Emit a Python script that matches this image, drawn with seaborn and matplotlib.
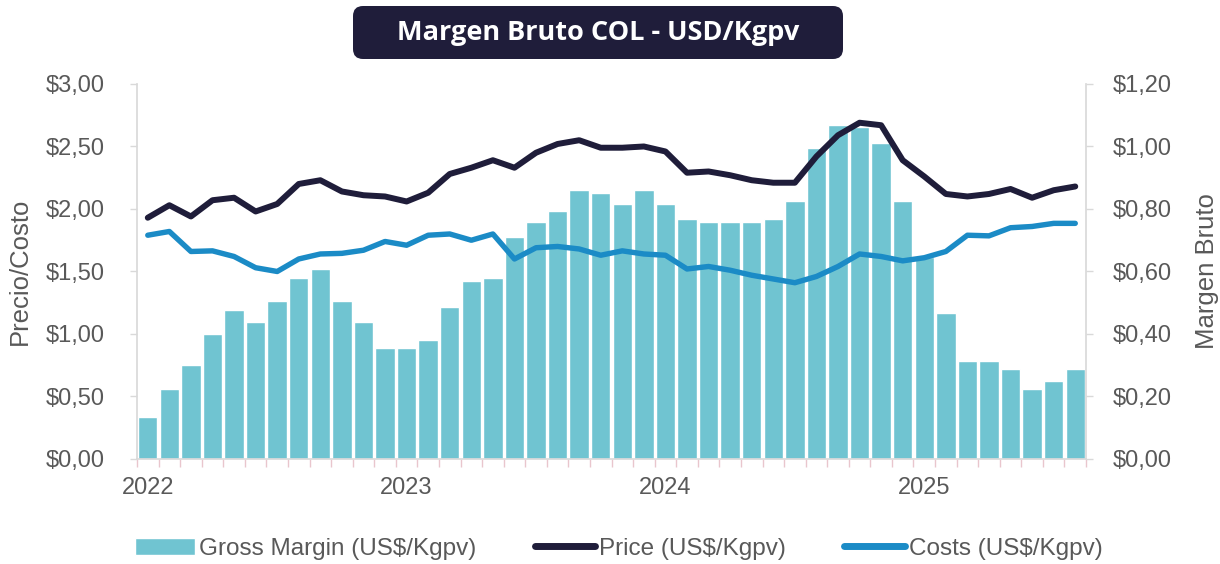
import numpy as np
import pandas as pd
import seaborn as sns
import matplotlib.pyplot as plt
from matplotlib.patches import FancyBboxPatch
from matplotlib.ticker import FuncFormatter

# monthly data, Jan 2022 - Aug 2025
months = pd.date_range('2022-01-01', periods=44, freq='MS')

margin = [0.135, 0.223, 0.300, 0.400, 0.477, 0.438, 0.505, 0.578, 0.608, 0.505,
          0.438, 0.354, 0.354, 0.381, 0.485, 0.571, 0.578, 0.711, 0.758, 0.795,
          0.861, 0.852, 0.815, 0.861, 0.815, 0.767, 0.758, 0.758, 0.758, 0.767,
          0.824, 0.994, 1.068, 1.063, 1.012, 0.824, 0.647, 0.466, 0.315, 0.315,
          0.287, 0.223, 0.251, 0.287]

price = [1.93, 2.03, 1.94, 2.07, 2.09, 1.98, 2.04, 2.20, 2.23, 2.14,
         2.11, 2.10, 2.06, 2.13, 2.28, 2.33, 2.39, 2.33, 2.45, 2.52,
         2.55, 2.49, 2.49, 2.50, 2.46, 2.29, 2.30, 2.27, 2.23, 2.21,
         2.21, 2.42, 2.59, 2.69, 2.67, 2.39, 2.26, 2.12, 2.10, 2.12,
         2.16, 2.09, 2.15, 2.18]

costs = [1.79, 1.82, 1.66, 1.665, 1.62, 1.53, 1.50, 1.60, 1.64, 1.645,
         1.67, 1.74, 1.71, 1.79, 1.80, 1.75, 1.80, 1.60, 1.69, 1.70,
         1.68, 1.63, 1.665, 1.64, 1.63, 1.52, 1.54, 1.51, 1.47, 1.44,
         1.41, 1.46, 1.54, 1.64, 1.62, 1.585, 1.61, 1.66, 1.79, 1.785,
         1.85, 1.86, 1.885, 1.885]

year_labels = ['2022', '2023', '2024', '2025']
left_ticks = [0.0, 0.5, 1.0, 1.5, 2.0, 2.5, 3.0]
right_ticks = [0.0, 0.2, 0.4, 0.6, 0.8, 1.0, 1.2]

bar_color = '#70c4d1'
price_color = '#1f1d3a'
cost_color = '#1b8bc6'
grey_txt = '#595959'
spine_c = '#d9d9d9'

df = pd.DataFrame({'pos': np.arange(len(months)), 'margin': margin,
                   'price': price, 'costs': costs})

sns.set_theme(style='white')
plt.rcParams['font.family'] = ['Liberation Sans', 'DejaVu Sans']

fig = plt.figure(figsize=(12.2, 5.64), dpi=100)
ax = fig.add_axes([0.1123, 0.1862, 0.7779, 0.6649])

# bars on the secondary (right) scale, drawn underneath
sns.barplot(data=df, x='pos', y='margin', color=bar_color, width=0.9,
            saturation=1, ax=ax, label='Gross Margin (US$/Kgpv)')

ax2 = ax.twinx()
sns.lineplot(data=df, x='pos', y='price', ax=ax2, color=price_color, lw=4.3,
             label='Price (US$/Kgpv)', solid_capstyle='round', solid_joinstyle='round')
sns.lineplot(data=df, x='pos', y='costs', ax=ax2, color=cost_color, lw=3.9,
             label='Costs (US$/Kgpv)', solid_capstyle='round', solid_joinstyle='round')

ax.set_xlim(-0.5, len(months) - 0.5)
ax.set_ylim(0, 1.2)
ax2.set_ylim(0, 3.0)

# swap sides: bars axis on the right, lines axis on the left
ax.yaxis.tick_right()
ax.yaxis.set_label_position('right')
ax2.yaxis.tick_left()
ax2.yaxis.set_label_position('left')

money = FuncFormatter(lambda v, p: '${:.2f}'.format(v).replace('.', ','))
ax.set_yticks(right_ticks)
ax2.set_yticks(left_ticks)
ax.yaxis.set_major_formatter(money)
ax2.yaxis.set_major_formatter(money)

ax.set_xticks([12 * i for i in range(len(year_labels))], labels=year_labels)
ax.set_xticks(np.arange(-0.5, len(months), 1), minor=True)

ax.tick_params(axis='x', which='major', length=0, pad=13, labelsize=17, labelcolor=grey_txt)
ax.tick_params(axis='x', which='minor', bottom=True, length=6, width=1, color='#e9c6cd')
ax.tick_params(axis='y', right=True, left=False, length=5, width=1, color=spine_c,
               pad=14, labelsize=17, labelcolor=grey_txt)
ax2.tick_params(axis='y', left=True, right=False, length=5, width=1, color=spine_c,
                pad=18, labelsize=17, labelcolor=grey_txt)

for a in (ax, ax2):
    for s in a.spines.values():
        s.set_visible(False)
ax.spines['bottom'].set_visible(True)
ax.spines['bottom'].set_color(spine_c)
ax.spines['right'].set_visible(True)
ax.spines['right'].set_color(spine_c)
ax2.spines['left'].set_visible(True)
ax2.spines['left'].set_color(spine_c)

ax.set_xlabel('')
ax.set_ylabel('Margen Bruto', fontsize=18.5, color=grey_txt)
ax2.set_ylabel('Precio/Costo', fontsize=18.5, color=grey_txt)
ax.yaxis.set_label_coords(1.115, 0.5)
ax2.yaxis.set_label_coords(-0.111, 0.5)

# legend at the bottom
h1, l1 = ax.get_legend_handles_labels()
h2, l2 = ax2.get_legend_handles_labels()
for a in (ax, ax2):
    if a.get_legend() is not None:
        a.get_legend().remove()
leg = fig.legend(h1 + h2, l1 + l2, loc='center', bbox_to_anchor=(0.507, 0.027),
                 ncol=3, frameon=False, fontsize=17.5, handlelength=2.5,
                 handletextpad=0.15, columnspacing=2.4)
for t in leg.get_texts():
    t.set_color(grey_txt)
for ln in leg.get_lines():
    ln.set_linewidth(5)

# title box
box = FancyBboxPatch((3.53, 5.05), 4.9, 0.53, boxstyle='round,pad=0,rounding_size=0.1',
                     transform=fig.dpi_scale_trans, fc=price_color, ec='none')
fig.patches.append(box)
fig.text(3.53 + 2.45, 5.05 + 0.265, 'Margen Bruto COL - USD/Kgpv',
         transform=fig.dpi_scale_trans, ha='center', va='center', color='white',
         fontsize=19.5, fontweight='bold', family=['Open Sans', 'DejaVu Sans'])

fig.savefig('out.png', dpi=100, facecolor='white')
